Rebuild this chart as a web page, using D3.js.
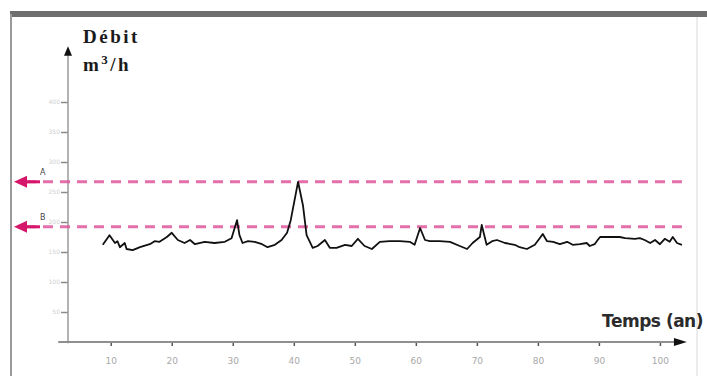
<!DOCTYPE html>
<html>
<head>
<meta charset="utf-8">
<script src="https://cdn.jsdelivr.net/npm/d3@7"></script>
<style>
  html, body { margin: 0; padding: 0; background: #fff; }
  svg { display: block; }
</style>
</head>
<body>
<svg id="chart" width="707" height="376"></svg>
<script>
// years (an) and flow (m3/h)
const years = [8.7, 9.8, 10.7, 11.1, 11.5, 12.3, 12.6, 13.6, 14.8, 16.4, 17.2, 18.0, 19.2, 20.0, 21.0, 22.1, 23.0, 23.8,
  25.4, 27.0, 28.7, 29.8, 30.7, 31.1, 31.6, 32.5, 33.6, 34.8, 35.7, 36.9, 38.0, 38.9, 39.5, 40.7, 41.5, 42.1, 43.1,
  43.9, 45.1, 45.9, 47.0, 48.4, 49.5, 50.5, 51.6, 52.8, 54.1, 55.7, 57.4, 59.0, 59.8, 60.7, 61.5, 62.3, 63.9, 65.6,
  67.2, 68.4, 69.3, 70.5, 70.8, 71.6, 72.5, 73.3, 74.6, 76.2, 77.0, 78.2, 79.5, 80.3, 80.8, 81.5, 82.5, 83.6, 84.8,
  85.7, 86.9, 88.0, 88.5, 89.3, 89.8, 90.2, 91.8, 93.4, 94.3, 95.9, 96.7, 97.5, 98.4, 99.2, 100, 100.8, 101.6, 102.1,
  102.8, 103.6];
const debit = [162, 178, 165, 168, 158, 165, 155, 153, 158, 163, 168, 167, 175, 182, 170, 165, 170, 163,
  167, 165, 167, 173, 203, 178, 165, 168, 167, 163, 158, 162, 170, 182, 203, 267, 228, 178, 157,
  160, 170, 157, 157, 162, 160, 172, 160, 155, 167, 168, 168, 167, 162, 190, 170, 168, 168, 167,
  160, 155, 165, 175, 195, 162, 168, 170, 165, 162, 158, 155, 162, 173, 180, 168, 167, 163, 167,
  162, 163, 165, 160, 163, 170, 175, 175, 175, 173, 172, 173, 170, 165, 170, 163, 172, 167, 175,
  165, 162];

const xTicks = [10, 20, 30, 40, 50, 60, 70, 80, 90, 100];
const yTicks = [50, 100, 150, 200, 250, 300, 350, 400];
const thresholds = [{ name: "A", value: 267 }, { name: "B", value: 192 }];

const svg = d3.select("#chart");

const x = d3.scaleLinear().domain([3, 104.6]).range([68, 688]);
const y = d3.scaleLinear().domain([0, 495]).range([342, 45]);

// frame
svg.append("rect").attr("x", 10).attr("y", 11).attr("width", 697).attr("height", 6).attr("fill", "#6e6e6e");
svg.append("line").attr("x1", 11).attr("x2", 11).attr("y1", 14).attr("y2", 376)
  .attr("stroke", "#9a9a9a").attr("stroke-width", 2);
svg.append("line").attr("x1", 697).attr("x2", 697).attr("y1", 17).attr("y2", 376)
  .attr("stroke", "#ececec").attr("stroke-width", 2);

// y axis
const yAxis = svg.append("g")
  .attr("transform", `translate(${x(3)},0)`)
  .call(d3.axisLeft(y).tickValues(yTicks).tickSize(7).tickFormat(d => d));
yAxis.select(".domain").remove();
yAxis.selectAll(".tick line").attr("stroke", "#8a8a8a").attr("stroke-width", 1.5);
yAxis.selectAll(".tick text").attr("fill", "#cfcfcf").attr("font-size", 6)
  .attr("font-family", "DejaVu Sans, sans-serif").attr("x", -8);
svg.append("line").attr("x1", x(3)).attr("x2", x(3)).attr("y1", y(-2)).attr("y2", y(480))
  .attr("stroke", "#9a9a9a").attr("stroke-width", 1.5);
svg.append("path")
  .attr("d", `M${x(3) - 4},${y(477)} L${x(3) + 4},${y(477)} L${x(3)},${y(493)} Z`)
  .attr("fill", "#111");

// x axis
const xAxis = svg.append("g")
  .attr("transform", `translate(0,${y(0)})`)
  .call(d3.axisBottom(x).tickValues(xTicks).tickSize(4).tickPadding(12).tickFormat(d => d));
xAxis.select(".domain").remove();
xAxis.selectAll(".tick line").attr("stroke", "#555").attr("stroke-width", 1.5);
xAxis.selectAll(".tick text").attr("fill", "#a8a8a8").attr("font-size", 9)
  .attr("font-family", "DejaVu Sans, sans-serif");
svg.append("line").attr("x1", x(1.4)).attr("x2", x(103)).attr("y1", y(0)).attr("y2", y(0))
  .attr("stroke", "#8f8f8f").attr("stroke-width", 2);
svg.append("path")
  .attr("d", `M${x(102.3)},${y(0) - 4} L${x(102.3)},${y(0) + 4} L${x(104.4)},${y(0)} Z`)
  .attr("fill", "#111");

// thresholds A and B
thresholds.forEach(t => {
  svg.append("line")
    .attr("x1", 26).attr("x2", x(103.6))
    .attr("y1", y(t.value)).attr("y2", y(t.value))
    .attr("stroke", "#e0569c").attr("stroke-width", 3)
    .attr("stroke-dasharray", "10,7").attr("opacity", 0.85);
  svg.append("path")
    .attr("d", `M14,${y(t.value)} L27,${y(t.value) - 6} L27,${y(t.value) + 6} Z`)
    .attr("fill", "#d6166a");
  svg.append("line")
    .attr("x1", 24).attr("x2", 40).attr("y1", y(t.value)).attr("y2", y(t.value))
    .attr("stroke", "#d6166a").attr("stroke-width", 3);
  svg.append("text")
    .attr("x", 40).attr("y", y(t.value) - 7)
    .attr("font-size", 8).attr("font-family", "DejaVu Sans, sans-serif")
    .attr("fill", "#444").text(t.name);
});

// flow series
const line = d3.line().x(d => x(d[0])).y(d => y(d[1]));
svg.append("path")
  .datum(d3.zip(years, debit))
  .attr("d", line)
  .attr("fill", "none")
  .attr("stroke", "#111")
  .attr("stroke-width", 1.8)
  .attr("stroke-linejoin", "round");

// axis titles
const yTitle = svg.append("text")
  .attr("font-family", "Liberation Serif, serif").attr("font-weight", "bold")
  .attr("font-size", 19).attr("fill", "#1a1a1a").attr("letter-spacing", 2.5);
yTitle.append("tspan").attr("x", 83).attr("y", 43).text("Débit");
yTitle.append("tspan").attr("x", 83).attr("y", 71).text("m");
yTitle.append("tspan").attr("dy", -7).attr("font-size", 13).text("3");
yTitle.append("tspan").attr("dy", 7).text("/h");

svg.append("text")
  .attr("x", 703).attr("y", 327).attr("text-anchor", "end")
  .attr("font-family", "DejaVu Sans, sans-serif").attr("font-weight", "bold")
  .attr("font-size", 17).attr("fill", "#2b2b2b").attr("letter-spacing", -0.5)
  .text("Temps (an)");
</script>
</body>
</html>
